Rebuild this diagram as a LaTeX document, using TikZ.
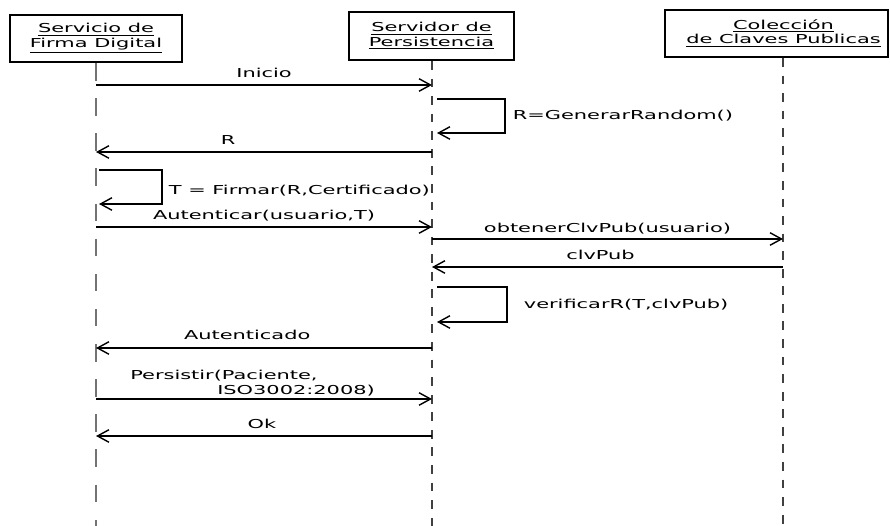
\documentclass[tikz,border=0pt]{standalone}
\usepackage{fontspec}
\setmainfont[FakeStretch=1.7]{DejaVu Sans}
\usepackage{tikz}
\usetikzlibrary{arrows.meta, positioning}

\tikzset{
  objbox/.style={draw=black, line width=1.1pt, fill=white, align=center,
                 inner sep=0, font=\fontsize{7}{7.4}\selectfont},
  msg/.style={line width=0.8pt, -{Straight Barb[length=2.3mm,width=2.5mm,line width=0.8pt]}},
  selfmsg/.style={msg, line width=1pt},
  lbl/.style={font=\fontsize{7}{9}\selectfont, inner sep=0},
  lifeA/.style={black!55, line width=1.1pt, dash pattern=on 10pt off 10pt},
  lifeB/.style={black!75, line width=0.7pt, dash pattern=on 5pt off 5pt},
}

\begin{document}
\begin{tikzpicture}[x=0.02cm, y=-0.02cm]
  \useasboundingbox (0,0) rectangle (890,526);
  \def\xa{96}\def\xb{432}\def\xc{783}
  %% Objects
  \node[objbox, minimum width=3.44cm, minimum height=0.94cm] (sfd) at (96,38.5)
       {\underline{Servicio de}\\\underline{Firma Digital}};
  \node[objbox, minimum width=3.3cm, minimum height=0.96cm] (srv) at (431.5,36)
       {\underline{Servidor de}\\\underline{Persistencia}};
  \node[objbox, minimum width=4.46cm, minimum height=0.94cm] (ccp) at (776.5,33.5)
       {\hspace*{0.28cm}\underline{Colección}\\\hspace*{0.28cm}\underline{de Claves Publicas}};
  %% Lifelines
  \coordinate (endA) at (\xa,526);
  \coordinate (endB) at (\xb,526);
  \coordinate (endC) at (\xc,526);
  \draw[lifeA] (sfd.south -| endA) -- (endA);
  \draw[lifeB] (srv.south -| endB) -- (endB);
  \draw[lifeB] (ccp.south -| endC) -- (endC);
  %% Message rows on each lifeline
  \foreach \n/\y in {1/85,2/152,3/227,4/239,5/267,6/348,7/399,8/436}{
    \coordinate (a\n) at (\xa,\y);
    \coordinate (b\n) at (\xb,\y);
    \coordinate (c\n) at (\xc,\y);
  }
  %% Self calls start points
  \coordinate (sb1) at (437,99);
  \coordinate (sa1) at (99,170);
  \coordinate (sb2) at (437,287);
  %% Messages
  \draw[msg] (a1) -- node[lbl, anchor=base, yshift=4pt] {Inicio} (b1);
  \draw[selfmsg] (sb1) -- ++(68,0)
       -- node[lbl, anchor=west, xshift=0.14cm] {R=GenerarRandom()} ++(0,34)
       -- ++(-68,0);
  \draw[msg] (b2) -- node[lbl, pos=0.607, anchor=base, yshift=4pt] {R} (a2);
  \draw[selfmsg] (sa1) -- ++(63,0)
       -- node[lbl, anchor=west, xshift=0.12cm, yshift=-0.08cm] {T = Firmar(R,Certificado)} ++(0,34)
       -- ++(-63,0);
  \draw[msg] (a3) -- node[lbl, anchor=base, yshift=4pt] {Autenticar(usuario,T)} (b3);
  \draw[msg] (b4) -- node[lbl, anchor=base, yshift=3.5pt] {obtenerClvPub(usuario)} (c4);
  \draw[msg] (c5) -- node[lbl, pos=0.52, anchor=base, yshift=4pt] {clvPub} (b5);
  \draw[selfmsg] (sb2) -- ++(70,0)
       -- node[lbl, anchor=west, xshift=0.32cm] {verificarR(T,clvPub)} ++(0,35)
       -- ++(-70,0);
  \draw[msg] (b6) -- node[lbl, pos=0.55, anchor=base, yshift=5pt] {Autenticado} (a6);
  \draw[msg] (a7) -- node[lbl, pos=0.1, anchor=south west, yshift=1pt, align=left]
       {Persistir(Paciente,\\\hspace*{1.74cm}ISO3002:2008)} (b7);
  \draw[msg] (b8) -- node[lbl, pos=0.506, anchor=base, yshift=4pt] {Ok} (a8);
\end{tikzpicture}
\end{document}
